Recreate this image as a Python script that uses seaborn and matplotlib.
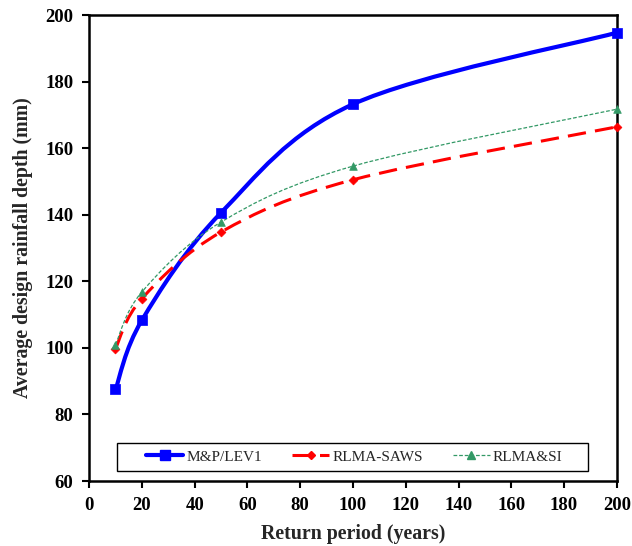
import numpy as np
import pandas as pd
import matplotlib
matplotlib.use("Agg")
import matplotlib.pyplot as plt
from matplotlib.path import Path
from matplotlib.patches import PathPatch, Rectangle
from matplotlib.lines import Line2D
import seaborn as sns

return_period = [10, 20, 50, 100, 200]
mp_lev1 = [87.5, 108.3, 140.6, 173.2, 194.7]
rlma_saws = [99.8, 114.8, 134.8, 150.5, 166.4]
rlma_si = [101.0, 116.8, 137.8, 154.6, 171.7]
series_names = ["M&P/LEV1", "RLMA-SAWS", "RLMA&SI"]
x_ticks = [0, 20, 40, 60, 80, 100, 120, 140, 160, 180, 200]
y_ticks = [60, 80, 100, 120, 140, 160, 180, 200]

sns.set_theme(style="white")
plt.rcParams["font.family"] = ["Liberation Serif", "DejaVu Serif"]

fig = plt.figure(figsize=(6.32, 5.46), dpi=100)
ax = fig.add_axes([0.141, 0.119, 0.835, 0.8535])

styles = [
    dict(color="#0000FF", lw=3.0, ls="-", marker="s", ms=6.5),
    dict(color="#FF0000", lw=2.2, ls=(0, (6, 3)), marker="D", ms=4.5),
    dict(color="#339966", lw=0.9, ls=(0, (3, 1.5)), marker="^", ms=5.5),
]
values = [mp_lev1, rlma_saws, rlma_si]


def smooth_path(xs, ys):
    pts = np.column_stack([xs, ys]).astype(float)
    ext = np.vstack([pts[0], pts, pts[-1]])
    verts = [tuple(pts[0])]
    codes = [Path.MOVETO]
    for i in range(len(pts) - 1):
        p0, p1, p2, p3 = ext[i], ext[i + 1], ext[i + 2], ext[i + 3]
        c1 = p1 + (p2 - p0) / 6.0
        c2 = p2 - (p3 - p1) / 6.0
        verts += [tuple(c1), tuple(c2), tuple(p2)]
        codes += [Path.CURVE4] * 3
    return Path(verts, codes)


handles = []
for name, vals, st in zip(series_names, values, styles):
    patch = PathPatch(smooth_path(return_period, vals), fill=False,
                      edgecolor=st["color"], lw=st["lw"], linestyle=st["ls"],
                      capstyle="butt", zorder=3)
    ax.add_patch(patch)
    df = pd.DataFrame({"x": return_period, "y": vals})
    sns.scatterplot(data=df, x="x", y="y", ax=ax, marker=st["marker"],
                    s=st["ms"] ** 2, color=st["color"], edgecolor=st["color"],
                    linewidth=0.5, zorder=4, legend=False, clip_on=False)
    handles.append(Line2D([], [], color=st["color"], lw=st["lw"], ls=st["ls"],
                          marker=st["marker"], ms=st["ms"], label=name))

ax.set_xlim(0, 200)
ax.set_ylim(60, 200)
ax.set_xticks(x_ticks)
ax.set_yticks(y_ticks)
ax.tick_params(direction="out", length=5, width=1.5, labelsize=13.5,
               bottom=True, left=True, colors="black", pad=6.5)
for lab in ax.get_xticklabels() + ax.get_yticklabels():
    lab.set_fontweight("bold")
for sp in ax.spines.values():
    sp.set_color("black")
    sp.set_linewidth(1.8)

ax.set_xlabel("Return period (years)", fontsize=14.3, fontweight="bold", labelpad=7)
ax.set_ylabel("Average design rainfall depth (mm)", fontsize=14.3, fontweight="bold", labelpad=9)

# legend frame
ax.add_patch(Rectangle((0.053, 0.022), 0.892, 0.060, transform=ax.transAxes,
                       fill=True, facecolor="white", edgecolor="black", lw=1.0,
                       zorder=5))
leg = ax.legend(handles=handles, loc="center", bbox_to_anchor=(0.503, 0.052),
                ncol=3, frameon=False, fontsize=11, handlelength=2.4,
                columnspacing=2.0, handletextpad=0.2, borderpad=0.3)
leg.set_zorder(6)

fig.savefig("out.png", dpi=100, facecolor="white")
